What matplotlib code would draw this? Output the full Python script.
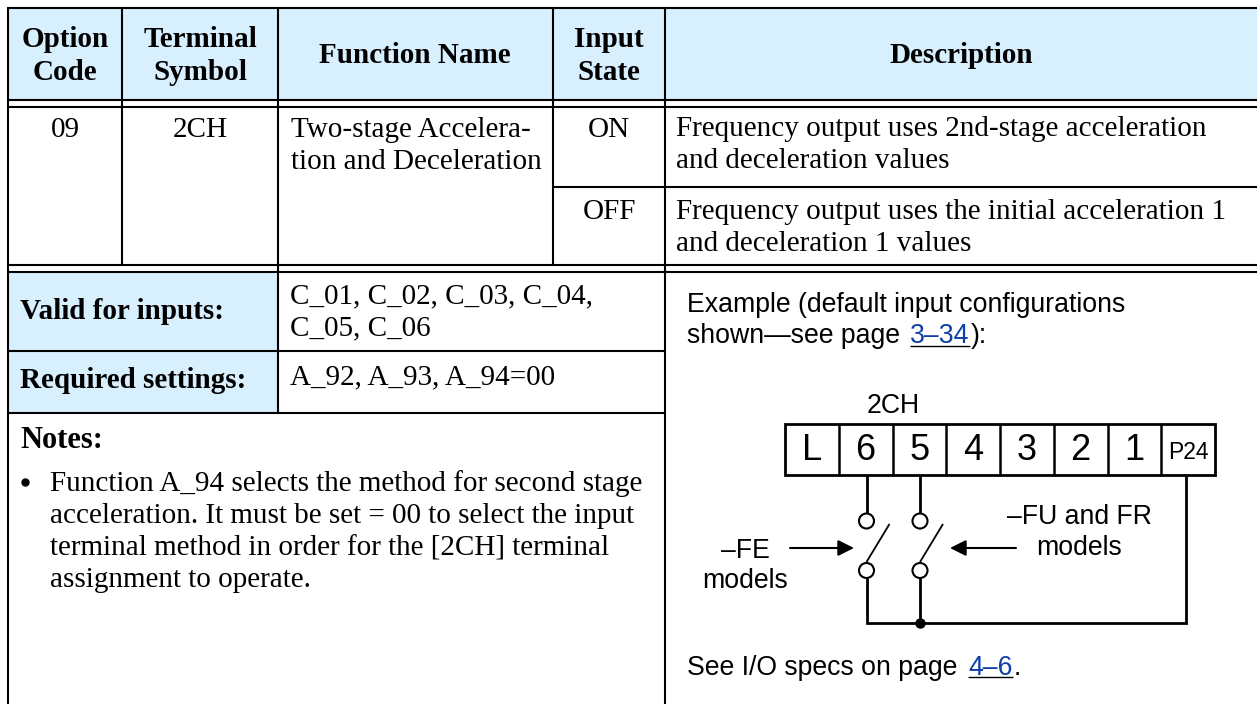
#!/usr/bin/python3

import matplotlib
matplotlib.use("Agg")
import matplotlib.pyplot as plt
from matplotlib.patches import Rectangle, Circle

W, H = 1257, 704
SERIF = "Liberation Serif"
SANS = "Liberation Sans"
HEAD_BG = "#d8effd"
BLUE = "#0f3ea8"
BODY = 21
NOTE = 19.2

headers = ["Option\nCode", "Terminal\nSymbol", "Function Name", "Input\nState", "Description"]
terminals = ["L", "6", "5", "4", "3", "2", "1", "P24"]
row_cells = ["09", "2CH", "Two-stage Accelera-\ntion and Deceleration"]
states = ["ON", "OFF"]
descriptions = ["Frequency output uses 2nd-stage acceleration\nand deceleration values",
                "Frequency output uses the initial acceleration 1\nand deceleration 1 values"]
side_labels = ["Valid for inputs:", "Required settings:"]
side_values = ["C_01, C_02, C_03, C_04,\nC_05, C_06", "A_92, A_93, A_94=00"]
notes = ["Function A_94 selects the method for second stage",
         "acceleration. It must be set = 00 to select the input",
         "terminal method in order for the [2CH] terminal",
         "assignment to operate."]

fig = plt.figure(figsize=(W / 100, H / 100), dpi=100)
ax = fig.add_axes([0, 0, 1, 1])
ax.set_xlim(0, W)
ax.set_ylim(H, 0)
ax.axis("off")

def line(xs, ys, lw=1.5):
    ax.plot(xs, ys, color="black", lw=lw, solid_capstyle="butt", solid_joinstyle="miter")

def txt(x, y, s, size=BODY, fam=SERIF, step=32, **kw):
    # y is the baseline, each line of s is placed on its own
    color = kw.pop("color", "black")
    for i, part in enumerate(s.split("\n")):
        ax.text(x, y + i * step, part, fontsize=size, family=fam, color=color, va="baseline", **kw)

# header fills
ax.add_patch(Rectangle((8, 8), W - 8, 92, color=HEAD_BG, lw=0))
ax.add_patch(Rectangle((8, 272), 270, 141, color=HEAD_BG, lw=0))

# grid
for y in [8, 100, 107, 265, 272]:
    line([8, W], [y, y])
line([553, W], [187, 187])
line([8, 665], [351, 351])
line([8, 665], [413, 413])
line([8, 8], [7, H])
for x in [122, 553]:
    line([x, x], [8, 265])
line([278, 278], [8, 413])
line([665, 665], [8, H])

# header row
head_x = [65, 200, 415, 609, 961]
for x, s in zip(head_x, headers):
    y = 47 if "\n" in s else 63
    txt(x, y, s, weight="bold", ha="center", step=33.5)

# first row
txt(65, 137, row_cells[0], ha="center")
txt(200, 137, row_cells[1], ha="center")
txt(291, 137, row_cells[2])
txt(609, 137, states[0], ha="center")
txt(609, 219, states[1], ha="center")
txt(676, 136, descriptions[0])
txt(676, 219, descriptions[1])

# settings block
txt(20, 319, side_labels[0], weight="bold")
txt(20, 388, side_labels[1], weight="bold")
txt(290, 303, side_values[0])
txt(290, 384, side_values[1])
txt(20, 448, "Notes:", weight="bold", size=22)
ax.plot([25], [482], "o", color="black", ms=5)
for i, s in enumerate(notes):
    txt(50, 491 + i * 32, s)

# example text
txt(687, 312, "Example (default input configurations", fam=SANS, size=NOTE)
txt(687, 343, "shown\u2014see page", fam=SANS, size=NOTE)
txt(910, 343, "3\u201334", fam=SANS, size=NOTE, color=BLUE)
line([910, 970], [346, 346], lw=1)
txt(971, 343, "):", fam=SANS, size=NOTE)
txt(687, 675, "See I/O specs on page", fam=SANS, size=NOTE)
txt(968, 675, "4\u20136", fam=SANS, size=NOTE, color=BLUE)
line([968, 1013], [677, 677], lw=1)
txt(1014, 675, ".", fam=SANS, size=NOTE)

# terminal strip
x0, x1, y0, y1 = 785, 1215, 424, 475
cell = (x1 - x0) / len(terminals)
ax.add_patch(Rectangle((x0, y0), x1 - x0, y1 - y0, fc="white", ec="black", lw=2))
for i, t in enumerate(terminals):
    if i:
        line([x0 + i * cell] * 2, [y0, y1], lw=1.8)
    size = 16.5 if t == "P24" else 26
    base = 459 if t == "P24" else 460
    txt(x0 + (i + .5) * cell, base, t, fam=SANS, size=size, ha="center")
txt(893, 413, "2CH", fam=SANS, size=NOTE, ha="center")

# wiring
x6, x5, xp, yb = 866.5, 920, 1186, 623
line([x6, x6], [475, 514], lw=2)
line([x5, x5], [475, 514], lw=2)
line([x6, x6, xp, xp], [578, yb, yb, 475], lw=2)
line([x5, x5], [578, yb], lw=2)
for x in (x6, x5):
    ax.add_patch(Circle((x, 521), 7.5, fc="white", ec="black", lw=1.5, zorder=3))
    ax.add_patch(Circle((x, 570.5), 7.5, fc="white", ec="black", lw=1.5, zorder=3))
    line([x, x + 23], [562, 524], lw=1.3)
ax.plot([x5], [623], "o", color="black", ms=6.5, zorder=4)
arrow = dict(arrowstyle="-|>", color="black", lw=1.5, mutation_scale=24, shrinkA=0, shrinkB=0)
ax.annotate("", xy=(854, 548), xytext=(790, 548), arrowprops=arrow)
ax.annotate("", xy=(950, 548), xytext=(1016, 548), arrowprops=arrow)
txt(745, 558, "\u2013FE\nmodels", fam=SANS, size=NOTE, ha="center", step=30)
txt(1079, 524, "\u2013FU and FR\nmodels", fam=SANS, size=NOTE, ha="center", step=31)

fig.savefig("out.png", dpi=100)
